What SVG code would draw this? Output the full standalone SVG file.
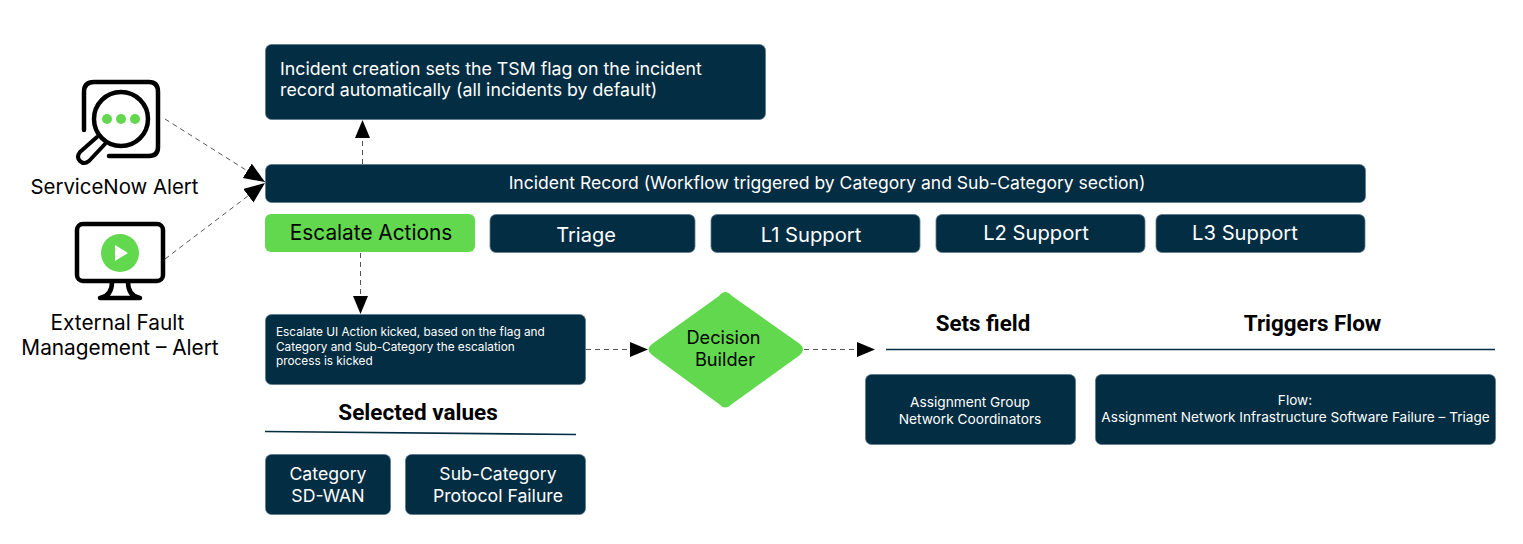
<svg xmlns="http://www.w3.org/2000/svg" width="1523" height="544" viewBox="0 0 1523 544">
<style>
text{font-family:"Inter","Liberation Sans",sans-serif;text-anchor:middle;fill:#fff}
.box{fill:#032d42;stroke:#5d7b8c;stroke-width:.8}
.g{fill:#62d84e;stroke:none}
.k{fill:#000}
.b{font-weight:700;font-family:"Roboto","Inter",sans-serif}
.c{fill:none;stroke:#555;stroke-width:1;stroke-dasharray:5 4}
.ic{fill:none;stroke:#000;stroke-width:4.500;stroke-linecap:round;stroke-linejoin:round}
.r{fill:none;stroke:#032d42;stroke-width:1.600}
</style>
<defs>
<marker id="a" markerUnits="userSpaceOnUse" markerWidth="19" markerHeight="16" refX="18" refY="7.500" orient="auto"><path d="M0 0L18 7.500L0 15Z" fill="#000"/></marker>
<marker id="e" markerUnits="userSpaceOnUse" markerWidth="22" markerHeight="18" refX="21" refY="8.500" orient="auto"><path d="M0 0L21 8.500L0 17Z" fill="#000"/></marker>
</defs>
<g id="connectors">
<path class="c" d="M165 119L265 182" marker-end="url(#e)"/>
<path class="c" d="M165 259L265 183" marker-end="url(#e)"/>
<path class="c" d="M362.500 164V120" marker-end="url(#a)"/>
<path class="c" d="M360.500 253V314" marker-end="url(#a)"/>
<path class="c" d="M586 349.500H648" marker-end="url(#a)"/>
<path class="c" d="M804 349.500H875" marker-end="url(#a)"/>
</g>
<g id="rules">
<path class="r" d="M265 431.500L576 434.500"/>
<path class="r" d="M886 349.500H1495"/>
</g>
<g id="servicenow-alert">
<path class="ic" d="M84 130V92Q84 82 94 82H149Q158 82 158 92V147Q158 156 149 156H109"/>
<circle class="ic" cx="121" cy="119" r="27"/>
<path d="M97 137L80 152Q76 157 80 161Q84 165 89 161L105 144" fill="none" stroke="#000" stroke-width="4" stroke-linejoin="round" stroke-linecap="round"/>
<circle class="g" cx="107" cy="119" r="5"/><circle class="g" cx="121" cy="119" r="5"/><circle class="g" cx="135" cy="119" r="5"/>
<text class="k" x="114.500" y="194" font-size="20.400">ServiceNow Alert</text>
</g>
<g id="external-fault">
<rect class="ic" x="77" y="224" width="86" height="57" rx="6"/>
<path class="ic" d="M112 282Q112 296 100 298H140Q128 296 128 282"/>
<circle class="g" cx="120" cy="253" r="19"/>
<path d="M115 245L128 253L115 261Z" fill="#fff"/>
<text class="k" x="117.500" y="330" font-size="20.800">External Fault</text>
<text class="k" x="120" y="355" font-size="20.800">Management – Alert</text>
</g>
<g id="incident-creation">
<rect class="box" x="265.500" y="44.500" width="500" height="75" rx="6"/>
<text style="text-anchor:start" x="280" y="75" font-size="17.750">Incident creation sets the TSM flag on the incident</text>
<text style="text-anchor:start" x="280" y="96" font-size="17.750">record automatically (all incidents by default)</text>
</g>
<g id="incident-record">
<rect class="box" x="265.500" y="164.500" width="1100" height="38" rx="6"/>
<text x="827" y="189" font-size="17.550">Incident Record (Workflow triggered by Category and Sub-Category section)</text>
</g>
<g id="escalate-actions">
<rect class="g" x="265" y="214" width="210" height="38" rx="6"/>
<text class="k" x="371" y="240" font-size="20.800">Escalate Actions</text>
</g>
<g id="triage"><rect class="box" x="490" y="214.500" width="205" height="38" rx="6"/><text x="586" y="242" font-size="20">Triage</text></g>
<g id="l1"><rect class="box" x="711" y="214.500" width="209" height="38" rx="6"/><text x="811" y="242" font-size="20.200">L1 Support</text></g>
<g id="l2"><rect class="box" x="936" y="214.500" width="209" height="38" rx="6"/><text x="1036" y="240" font-size="20.200">L2 Support</text></g>
<g id="l3"><rect class="box" x="1156" y="214.500" width="209" height="38" rx="6"/><text x="1245" y="240" font-size="20.200">L3 Support</text></g>
<g id="escalate-ui">
<rect class="box" x="265.500" y="314.500" width="320" height="70" rx="6"/>
<text style="text-anchor:start" x="276" y="336" font-size="11.800">Escalate UI Action kicked, based on the flag and</text>
<text style="text-anchor:start" x="276" y="351" font-size="11.800">Category and Sub-Category the escalation</text>
<text style="text-anchor:start" x="276" y="365" font-size="11.800">process is kicked</text>
</g>
<g id="decision-builder">
<path class="g" d="M719 296Q725 288 732 296L800 344Q806 349.500 800 355L732 404Q725 411 719 404L652 355Q645 349.500 652 344Z"/>
<text class="k" x="723.500" y="344" font-size="18.200">Decision</text>
<text class="k" x="725" y="366" font-size="18.200">Builder</text>
</g>
<g id="selected-values"><text class="k b" x="418" y="420" font-size="22.500">Selected values</text></g>
<g id="category"><rect class="box" x="265.500" y="454.500" width="125" height="60" rx="6"/>
<text x="328" y="480" font-size="17.700">Category</text><text x="328" y="502" font-size="17.700">SD-WAN</text></g>
<g id="sub-category"><rect class="box" x="405.500" y="454.500" width="180" height="60" rx="6"/>
<text x="498" y="480" font-size="17.600">Sub-Category</text><text x="498" y="502" font-size="17.700">Protocol Failure</text></g>
<g id="sets-field"><text class="k b" x="983" y="331" font-size="22.300">Sets field</text></g>
<g id="triggers-flow"><text class="k b" x="1312.500" y="331" font-size="22.400">Triggers Flow</text></g>
<g id="assignment-group"><rect class="box" x="865.500" y="374.500" width="210" height="70" rx="6"/>
<text x="970" y="407" font-size="13.700">Assignment Group</text><text x="970" y="424" font-size="13.700">Network Coordinators</text></g>
<g id="flow"><rect class="box" x="1095.500" y="374.500" width="400" height="70" rx="6"/>
<text x="1295" y="405" font-size="13.600">Flow:</text><text x="1295.500" y="422" font-size="13.600">Assignment Network Infrastructure Software Failure – Triage</text></g>
</svg>
